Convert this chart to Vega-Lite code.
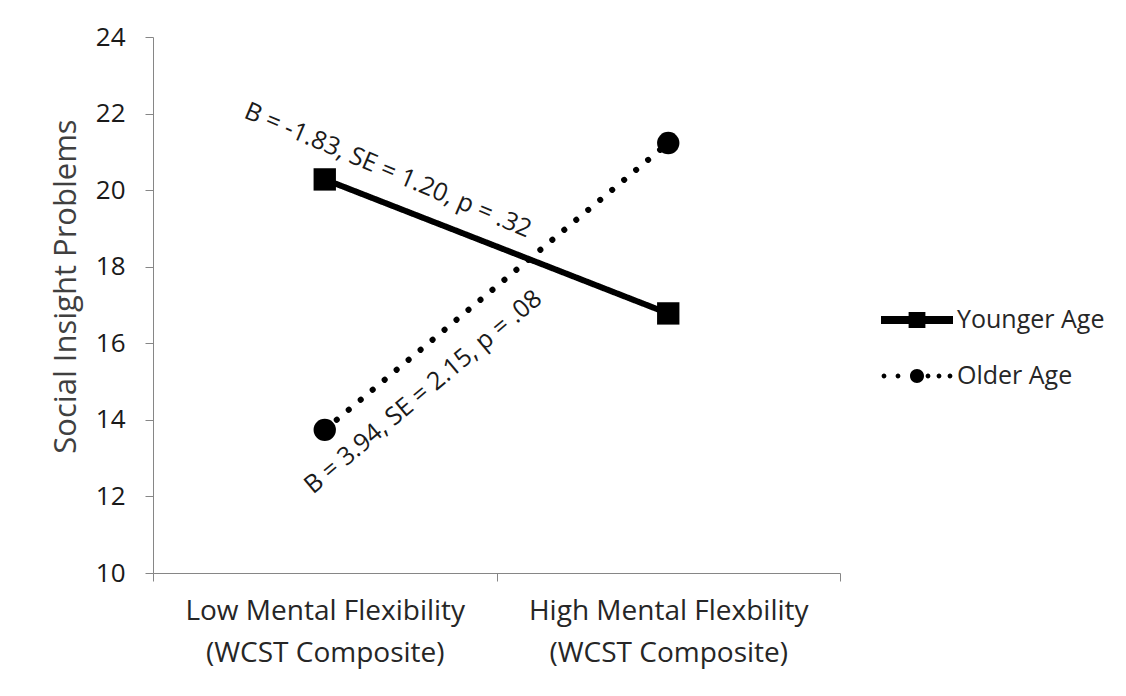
{
  "$schema": "https://vega.github.io/schema/vega-lite/v6.json",
  "autosize": {"type": "none"},
  "padding": {"left": 153, "top": 37, "right": 286, "bottom": 123},
  "width": 687,
  "height": 536,
  "background": "white",
  "config": {
    "view": {"stroke": null},
    "font": "Open Sans"
  },
  "datasets": {
    "means": [
      {"age": "Younger Age", "flexibility": "Low Mental Flexibility (WCST Composite)", "problems": 20.28},
      {"age": "Younger Age", "flexibility": "High Mental Flexbility (WCST Composite)", "problems": 16.78},
      {"age": "Older Age", "flexibility": "Low Mental Flexibility (WCST Composite)", "problems": 13.74},
      {"age": "Older Age", "flexibility": "High Mental Flexbility (WCST Composite)", "problems": 21.23}
    ]
  },
  "layer": [
    {
      "data": {"name": "means"},
      "mark": {"type": "line", "color": "black", "strokeWidth": 6, "strokeCap": "round"},
      "encoding": {
        "x": {
          "field": "flexibility", "type": "nominal",
          "scale": {"type": "band", "paddingInner": 0, "paddingOuter": 0,
                    "domain": ["Low Mental Flexibility (WCST Composite)", "High Mental Flexbility (WCST Composite)"]},
          "axis": {
            "title": null,
            "tickBand": "extent",
            "domainColor": "#868686",
            "tickColor": "#868686",
            "tickSize": 8,
            "labelAngle": 0,
            "labelPadding": 16,
            "labelFontSize": 28,
            "labelColor": "#262626",
            "labelLineHeight": 42,
            "labelBaseline": "top",
            "labelLimit": 0,
            "labelOverlap": false,
            "labelExpr": "[slice(datum.label, 0, indexof(datum.label, ' (')), slice(datum.label, indexof(datum.label, ' (') + 1)]"
          }
        },
        "y": {
          "field": "problems", "type": "quantitative",
          "scale": {"domain": [10, 24], "nice": false, "zero": false},
          "axis": {
            "values": [10, 12, 14, 16, 18, 20, 22, 24],
            "grid": false,
            "domainColor": "#868686",
            "tickColor": "#868686",
            "tickSize": 8,
            "labelPadding": 20,
            "labelFontSize": 26,
            "labelColor": "#1a1a1a",
            "title": "Social Insight Problems",
            "titleFontSize": 31,
            "titleFontWeight": "normal",
            "titleColor": "#404040",
            "titleX": -71,
            "titleY": 249
          }
        },
        "detail": {"field": "age"},
        "strokeDash": {
          "field": "age", "type": "nominal",
          "scale": {"domain": ["Younger Age", "Older Age"], "range": [[1, 0], [0.1, 15.5]]},
          "legend": null
        }
      }
    },
    {
      "data": {"name": "means"},
      "mark": {"type": "point", "filled": true, "color": "black", "opacity": 1, "size": 500},
      "encoding": {
        "x": {"field": "flexibility", "type": "nominal"},
        "y": {"field": "problems", "type": "quantitative"},
        "shape": {
          "field": "age", "type": "nominal",
          "scale": {"domain": ["Younger Age", "Older Age"], "range": ["square", "circle"]},
          "legend": null
        }
      }
    },
    {
      "data": {"name": "means"},
      "mark": {"type": "point", "filled": true, "color": "black", "opacity": 0},
      "encoding": {
        "x": {"field": "flexibility", "type": "nominal"},
        "y": {"field": "problems", "type": "quantitative"},
        "shape": {
          "field": "age", "type": "nominal",
          "scale": {
            "domain": ["Younger Age", "Older Age"],
            "range": [
              "M-1.8,-0.2H1.8V0.2H-1.8Z M-0.42,-0.4H0.42V0.4H-0.42Z",
              "M-0.35,0A0.35,0.35 0 1,0 0.35,0A0.35,0.35 0 1,0 -0.35,0Z M-1.77,0A0.12,0.12 0 1,0 -1.53,0A0.12,0.12 0 1,0 -1.77,0Z M-1.07,0A0.12,0.12 0 1,0 -0.83,0A0.12,0.12 0 1,0 -1.07,0Z M0.43,0A0.12,0.12 0 1,0 0.67,0A0.12,0.12 0 1,0 0.43,0Z M0.98,0A0.12,0.12 0 1,0 1.22,0A0.12,0.12 0 1,0 0.98,0Z M1.53,0A0.12,0.12 0 1,0 1.77,0A0.12,0.12 0 1,0 1.53,0Z"
            ]
          },
          "legend": {
            "title": null,
            "orient": "none",
            "legendX": 744,
            "legendY": 263,
            "symbolSize": 1600,
            "symbolOpacity": 1,
            "symbolFillColor": "black",
            "symbolStrokeWidth": 0,
            "labelFontSize": 25,
            "labelColor": "#262626",
            "labelOffset": 20,
            "rowPadding": 23
          }
        }
      }
    },
    {
      "data": {"values": [{"flexibility": "Low Mental Flexibility (WCST Composite)", "problems": 20.52, "label": "B = -1.83, SE = 1.20, p = .32"}]},
      "mark": {"type": "text", "angle": 23, "align": "center", "baseline": "middle", "fontSize": 25, "color": "#1a1a1a"},
      "encoding": {
        "x": {"field": "flexibility", "type": "nominal", "bandPosition": 0.684},
        "y": {"field": "problems", "type": "quantitative"},
        "text": {"field": "label"}
      }
    },
    {
      "data": {"values": [{"flexibility": "Low Mental Flexibility (WCST Composite)", "problems": 14.73, "label": "B = 3.94, SE = 2.15, p = .08"}]},
      "mark": {"type": "text", "angle": -40, "align": "center", "baseline": "middle", "fontSize": 25, "color": "#1a1a1a"},
      "encoding": {
        "x": {"field": "flexibility", "type": "nominal", "bandPosition": 0.786},
        "y": {"field": "problems", "type": "quantitative"},
        "text": {"field": "label"}
      }
    }
  ],
  "resolve": {"scale": {"shape": "independent"}}
}
